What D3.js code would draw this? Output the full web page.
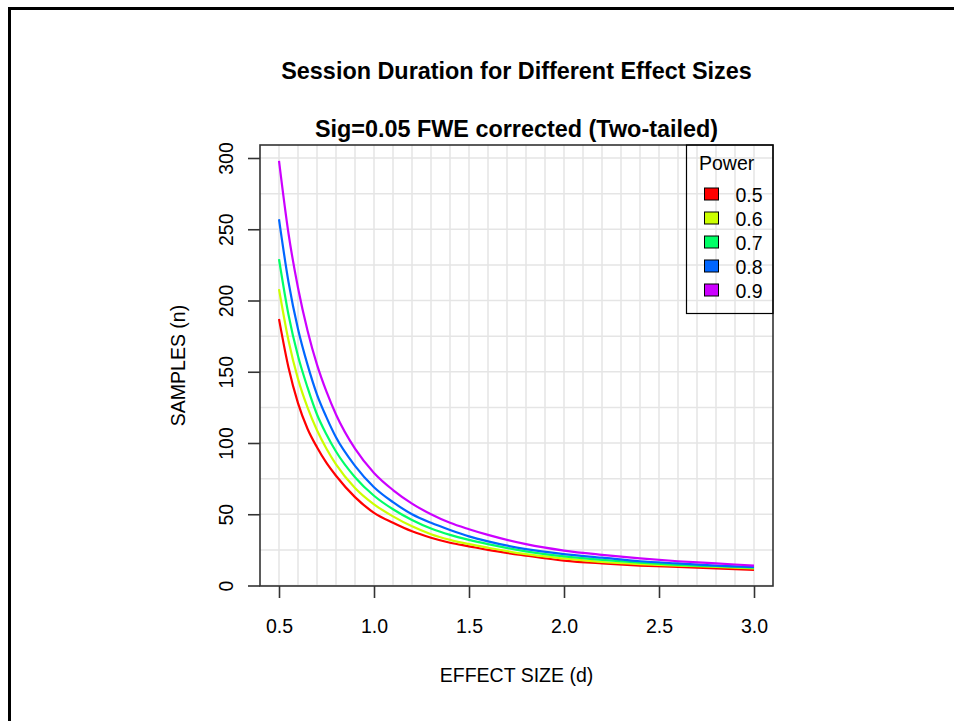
<!DOCTYPE html>
<html>
<head>
<meta charset="utf-8">
<script src="https://cdn.jsdelivr.net/npm/d3@7"></script>
<style>
  body { margin: 0; background: #fff; }
  text { font-family: "Liberation Sans", Arial, sans-serif; fill: #000; }
</style>
</head>
<body>
<div id="chart"></div>
<script>
// Data -------------------------------------------------------
const effectSizes = [0.5, 0.55, 0.6, 0.65, 0.7, 0.75, 0.8, 0.9, 1.0, 1.1, 1.2, 1.3, 1.4, 1.5, 1.6, 1.8, 2.0, 2.2, 2.4, 2.6, 2.8, 3.0];
const powerLevels = ["0.5", "0.6", "0.7", "0.8", "0.9"];
const samplesPow05 = [187, 153, 128, 110, 97, 86, 77, 62, 51, 44, 38, 33.5, 30, 27.5, 25, 21, 17.5, 15.5, 14, 13, 12, 11];
const samplesPow06 = [208, 172, 145, 125, 109, 96, 85, 68.5, 57, 48.5, 41.5, 36, 32, 29, 26.5, 22, 19, 16.5, 15, 14, 13, 12];
const samplesPow07 = [229, 190, 161, 139, 120, 106, 94, 76, 63, 53.5, 46, 40, 35.5, 32, 29, 24, 20.5, 18, 16, 14.5, 13.5, 12.5];
const samplesPow08 = [257, 213, 180, 155, 134, 118, 104, 84, 69, 58.5, 50, 44, 39, 34.5, 31, 25.5, 22, 19.5, 17, 15.5, 14, 13];
const samplesPow09 = [298, 247, 209, 179, 155, 136, 120, 96, 79, 67, 57.5, 50, 44, 39.5, 35.5, 29, 24.5, 21.5, 19, 17, 15.5, 14];
const xTickValues = [0.5, 1.0, 1.5, 2.0, 2.5, 3.0];
const yTickValues = [0, 50, 100, 150, 200, 250, 300];

const titleText = "Session Duration for Different Effect Sizes";
const subtitleText = "Sig=0.05 FWE corrected (Two-tailed)";
const xLabel = "EFFECT SIZE (d)";
const yLabel = "SAMPLES (n)";
const legendTitle = "Power";

// rainbow(5)
const lineColors = ["#FF0000", "#CCFF00", "#00FF66", "#0066FF", "#CC00FF"];

const allSeries = [samplesPow05, samplesPow06, samplesPow07, samplesPow08, samplesPow09];

// Layout ------------------------------------------------------
const width = 954, height = 721;
const box = { left: 260, right: 773, top: 145, bottom: 586 };
const fontSize = 19.5;

const svg = d3.select("#chart")
    .append("svg")
    .attr("width", width)
    .attr("height", height);

// outer frame (only top and left edges fall inside the window)
svg.append("rect")
    .attr("x", 9.5).attr("y", 8.5)
    .attr("width", 970).attr("height", 740)
    .attr("fill", "none")
    .attr("stroke", "#000")
    .attr("stroke-width", 3);

var x = d3.scaleLinear().domain([0.5, 3.0]).range([279, 754]);
var y = d3.scaleLinear().domain([0, 300]).range([585.5, 158]);

// grid
var gridX = d3.range(5, 31).map(i => i / 10);
var gridY = d3.range(0, 301, 25);
var grid = svg.append("g").attr("stroke", "#e5e5e5").attr("stroke-width", 1.5);
grid.selectAll(".gx").data(gridX).enter().append("line")
    .attr("x1", d => x(d)).attr("x2", d => x(d))
    .attr("y1", box.top).attr("y2", box.bottom);
grid.selectAll(".gy").data(gridY).enter().append("line")
    .attr("x1", box.left).attr("x2", box.right)
    .attr("y1", d => y(d)).attr("y2", d => y(d));

// curves
var line = d3.line()
    .x(d => x(d[0]))
    .y(d => y(d[1]))
    .curve(d3.curveMonotoneX);

svg.selectAll(".curve")
    .data(allSeries)
    .enter()
    .append("path")
    .attr("class", "curve")
    .attr("d", s => line(s.map((v, i) => [effectSizes[i], v])))
    .attr("fill", "none")
    .attr("stroke", (s, i) => lineColors[i])
    .attr("stroke-width", 2.2);

// box
svg.append("rect")
    .attr("x", box.left).attr("y", box.top)
    .attr("width", box.right - box.left).attr("height", box.bottom - box.top)
    .attr("fill", "none")
    .attr("stroke", "#333")
    .attr("stroke-width", 1.6);

// x axis
var xAxis = svg.append("g")
    .attr("transform", "translate(0," + box.bottom + ")")
    .call(d3.axisBottom(x).tickValues(xTickValues).tickFormat(d3.format(".1f")).tickSize(12).tickPadding(21));
xAxis.select(".domain").remove();
xAxis.selectAll("line").attr("stroke", "#333").attr("stroke-width", 1.6);
xAxis.selectAll("text")
    .style("font-family", "'Liberation Sans', Arial, sans-serif")
    .style("font-size", fontSize + "px")
    .attr("fill", "#000");

// y axis, labels rotated like R's default las=0
var yAxis = svg.append("g")
    .attr("transform", "translate(" + box.left + ",0)")
    .call(d3.axisLeft(y).tickValues(yTickValues).tickSize(12));
yAxis.select(".domain").remove();
yAxis.selectAll("line").attr("stroke", "#333").attr("stroke-width", 1.6);
yAxis.selectAll("text")
    .style("font-family", "'Liberation Sans', Arial, sans-serif")
    .style("font-size", fontSize + "px")
    .attr("fill", "#000")
    .attr("x", 0).attr("dy", 0)
    .attr("text-anchor", "middle")
    .attr("transform", "translate(-27,0) rotate(-90)");

// axis titles
svg.append("text")
    .attr("x", (box.left + box.right) / 2).attr("y", 682)
    .attr("text-anchor", "middle")
    .style("font-size", fontSize + "px")
    .text(xLabel);
svg.append("text")
    .attr("transform", "translate(185," + ((box.top + box.bottom) / 2) + ") rotate(-90)")
    .attr("text-anchor", "middle")
    .style("font-size", fontSize + "px")
    .text(yLabel);

// titles
svg.append("text")
    .attr("x", (box.left + box.right) / 2).attr("y", 78.5)
    .attr("text-anchor", "middle")
    .style("font-size", "23.4px").style("font-weight", "bold")
    .text(titleText);
svg.append("text")
    .attr("x", (box.left + box.right) / 2).attr("y", 136.5)
    .attr("text-anchor", "middle")
    .style("font-size", "23.4px").style("font-weight", "bold")
    .text(subtitleText);

// legend (transparent background, grid shows through)
var legend = svg.append("g");
legend.append("rect")
    .attr("x", 686.5).attr("y", box.top)
    .attr("width", box.right - 686.5).attr("height", 313.5 - box.top)
    .attr("fill", "none")
    .attr("stroke", "#000")
    .attr("stroke-width", 1.2);
legend.append("text")
    .attr("x", 699).attr("y", 170)
    .style("font-size", fontSize + "px")
    .text(legendTitle);
var rows = legend.selectAll(".row")
    .data(powerLevels)
    .enter().append("g")
    .attr("transform", (d, i) => "translate(0," + (194 + i * 24) + ")");
rows.append("rect")
    .attr("x", 704.5).attr("y", -6)
    .attr("width", 14).attr("height", 12)
    .attr("fill", (d, i) => lineColors[i])
    .attr("stroke", "#000")
    .attr("stroke-width", 1);
rows.append("text")
    .attr("x", 735.5).attr("y", 7.5)
    .style("font-size", fontSize + "px")
    .text(d => d);
</script>
</body>
</html>
